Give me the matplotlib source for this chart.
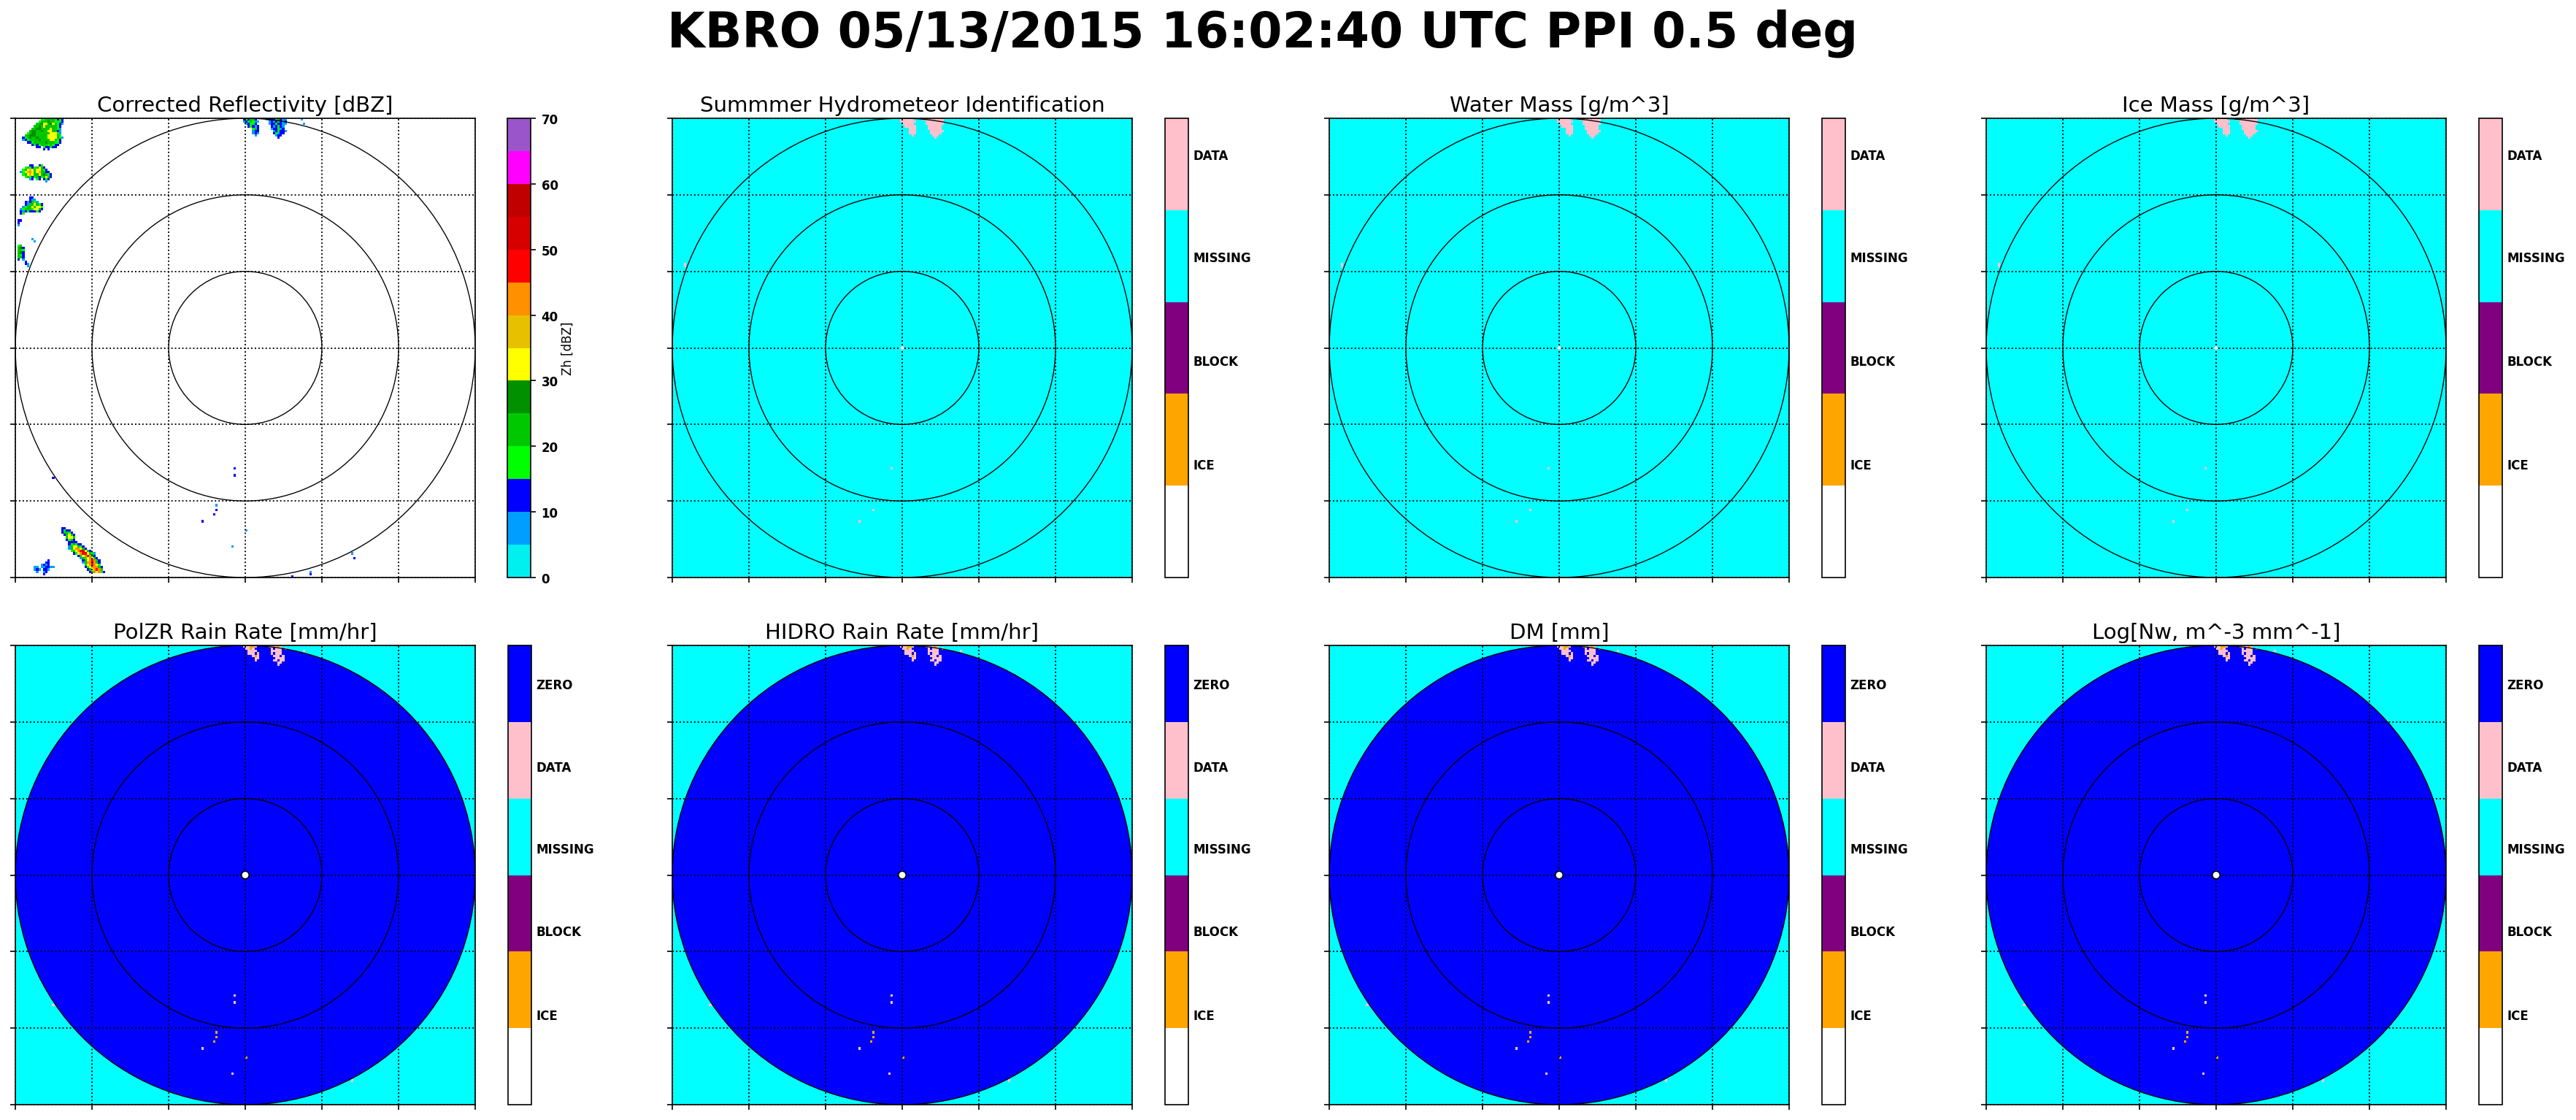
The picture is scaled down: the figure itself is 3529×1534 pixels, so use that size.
#! /usr/bin/env python3

import numpy as np
import matplotlib
import matplotlib.pyplot as plt
from matplotlib.colors import ListedColormap, BoundaryNorm
from matplotlib.patches import Circle
matplotlib.use('Agg')

# Echo blobs, one char per 1.5 km cell
# b=5-10 B=10-15 l=15-20 G=20-25 D=25-30 y=30-35 o=35-40 O=40-45 r=45-50 R=50-55
blobNW1 = ["........llGGGGlBlB",
           ".......lGGGDGGlllB",
           "......GGDyyGDyGlBb",
           ".....GGDGyGGGGGlB.",
           "....GGDDGGGGyGGlb.",
           "...GDDGGDGGyyGGBb.",
           "..lGDDGGGGGGyyylb.",
           ".GGDDDGGGGGyyyyGl.",
           "BlGDGGDGGGGyyyyGlb",
           "bBlGGGGDGGGGyyGlB.",
           "..BBlGGGGGDGGGllB.",
           "....BlBlGGGlGlBB..",
           "......BB.lBBlBB...",
           ".........B.B......"]
blobNW2 = ["....BB..Bl....",
           "..lGlBlGyGB...",
           ".lGyoyGyyGlB..",
           "blyoOyGyoGGBB.",
           ".lGyoyGGyGDGlB",
           "..lGlBlGBlGyGB",
           "....bB.lB.BlB.",
           "...........b.."]
blobNW3 = ["....BB....",
           "....Bbb...",
           "..BbBGlb..",
           "..BbGGyGlB",
           ".blGGyGyyl",
           "blGGGlyyGB",
           "BbBlBBBlB.",
           "Bl........"]
blobW1 = ["lG.", "GDB", "GGl", "GDB", "GlB", "GGB", "B.b"]
blobW2 = ["BB", "B.", "b."]
blobW3 = ["b.", ".b"]
blobW4 = ["B.", "Bb", ".b"]
blobSW1 = ["BB....",
           "BlBB..",
           "BGGlB.",
           ".BGyGB",
           "..GyyG",
           "..BlGB",
           "...BB."]
blobSW2 = ["..BB............",
           "BlGlBB..........",
           "bGyyGlB.........",
           "bGyOOyGB........",
           ".lGyOrRyGB......",
           "..BlyOrRyGlb....",
           "....BGyOrOGB....",
           ".....bGlyOyGB...",
           "......BGyOrOGB..",
           "......bGOOrOGB..",
           ".......GyOrOyl..",
           ".......BlyOOOGB.",
           "........BGyOrOG.",
           ".........BGOyOlB"]
blobSW3 = ["......B..",
           ".....BB..",
           "...bBbB..",
           "bb.bbBBbb",
           "bBb.BBb..",
           ".b..bB...",
           "....B...."]
blobN1 = ["bbBGlGBb..",
          "..BlBGGB..",
          "..bBlGlbb.",
          "...bBllB..",
          "....BlBbB.",
          "......lGB.",
          "......bBB.",
          "......bBb.",
          ".......b.."]
blobN2 = ["bbBlGGBBb",
          "bBBBlGBbb",
          ".bBbBlBbB",
          ".bBBlBBbb",
          "..BbBlBb.",
          "..bBBlbB.",
          "...bBlBBb",
          "...BlbBB.",
          "....bBB..",
          ".....B..."]
blobs = [blobNW1, blobNW2, blobNW3, blobW1, blobW2, blobW3, blobW4, blobSW1, blobSW2, blobSW3, blobN1, blobN2]
blobX = [-145, -147, -147, -149, -149, -140, -144, -120.5, -115, -138, -4, 13]
blobY = [149, 118, 98, 66, 82, 71, 55, -119, -128, -139, 150, 150]

# Isolated gates
dotX = [-19.5, -20, -20.5, -28.5, -0.5, -8.5, 41.5, 42, 69.5, 70.5, -8, -8, -126.5, 30.5, 36.5, 38]
dotY = [-103.5, -107, -109, -114.5, -120.5, -130, -147, -149, -135.5, -137.5, -80, -83.5, -86, 149.5, 149, 146]
dotLevel = "bBBBbbbBbBBBBBbb"
dotRainIce = [1, 1, 1, 0, 1, 0, 0, 0, 0, 0, 0, 0, 0, 0, 0, 0]
dotShownTop = [0, 1, 0, 1, 0, 0, 0, 0, 0, 0, 1, 0, 0, 0, 0, 0]

levelChars = "abBlGDyoOrRRMP"
dbzColors = ['#00efef', '#009fff', '#0000ff', '#00ff00', '#00c800', '#009000', '#ffff00',
             '#e7c000', '#ff9000', '#ff0000', '#d60000', '#c00000', '#ff00ff', '#9955c9']
dbzTicks = [0, 10, 20, 30, 40, 50, 60, 70]

hidColorsTop = ['white', 'orange', 'purple', 'cyan', 'pink']
hidLabelsTop = ['ICE', 'BLOCK', 'MISSING', 'DATA']
hidColorsBottom = ['white', 'orange', 'purple', 'cyan', 'pink', 'blue']
hidLabelsBottom = ['ICE', 'BLOCK', 'MISSING', 'DATA', 'ZERO']

titles = ["Corrected Reflectivity [dBZ]", "Summmer Hydrometeor Identification", "Water Mass [g/m^3]", "Ice Mass [g/m^3]",
          "PolZR Rain Rate [mm/hr]", "HIDRO Rain Rate [mm/hr]", "DM [mm]", "Log[Nw, m^-3 mm^-1]"]
ringRadii = [50, 100, 150]
gridTicks = [-150, -100, -50, 0, 50, 100, 150]

widthPx, heightPx = 3529, 1535
dpi = 150
cell = 1.5
edges = np.arange(-150, 150 + cell, cell)
nCell = len(edges) - 1


def cellIndex(x, y):
    return int(round((x + 150) / cell)), int(round((150 - y) / cell)) - 1


# Fill the gate grid from the hand read blobs
dbz = np.full((nCell, nCell), np.nan)
rainIce = np.zeros((nCell, nCell), dtype=bool)
rainHole = np.zeros((nCell, nCell), dtype=bool)
topHidden = np.zeros((nCell, nCell), dtype=bool)
for blob, x0, y0 in zip(blobs, blobX, blobY):
    for r, row in enumerate(blob):
        for c, ch in enumerate(row):
            if ch == '.':
                continue
            i, j = cellIndex(x0 + c * cell, y0 - r * cell)
            if 0 <= i < nCell and 0 <= j < nCell:
                dbz[j, i] = levelChars.index(ch) * 5 + 2.5
                rainIce[j, i] = ch == 'G'
                rainHole[j, i] = ch == 'b'
for x, y, ch, ice, shown in zip(dotX, dotY, dotLevel, dotRainIce, dotShownTop):
    i, j = cellIndex(x, y)
    dbz[j, i] = levelChars.index(ch) * 5 + 2.5
    rainIce[j, i] = bool(ice)
    topHidden[j, i] = not shown

mids = 0.5 * (edges[:-1] + edges[1:])
xx, yy = np.meshgrid(mids, mids[::-1])
inRange = np.hypot(xx, yy) <= 152
hasData = ~np.isnan(dbz) & inRange


def addAxes(fig, x, y, w, h):
    return fig.add_axes([x / widthPx, 1 - (y + h) / heightPx, w / widthPx, h / heightPx])


def setupPanel(ax, title):
    ax.set_xlim(-150, 150)
    ax.set_ylim(-150, 150)
    ax.set_xticks(gridTicks)
    ax.set_yticks(gridTicks)
    ax.set_xticklabels([])
    ax.set_yticklabels([])
    ax.set_axisbelow(False)
    ax.grid(True, linestyle=':', color='k', linewidth=0.9)
    for radius in ringRadii:
        ax.add_patch(Circle((0, 0), radius, fill=False, edgecolor='k', linewidth=0.65, zorder=4))
    ax.set_title(title, fontsize=14, pad=5)


def hidColorbar(fig, cax, mesh, labels, ticks):
    cb = fig.colorbar(mesh, cax=cax)
    cb.set_ticks(ticks)
    cb.set_ticklabels(labels, fontsize=8, fontweight='bold')
    cb.ax.tick_params(length=0, pad=3)
    cb.ax.minorticks_off()


def main():
    fig = plt.figure(figsize=(widthPx / dpi, heightPx / dpi), dpi=dpi)
    fig.text(0.4902, 0.9705, "KBRO 05/13/2015 16:02:40 UTC PPI 0.5 deg", fontsize=32, fontweight='bold',
             ha='center', va='center')

    lefts = [21, 921, 1821, 2721]
    tops = [163, 885]
    size = 629
    dbzCmap = ListedColormap(dbzColors)
    dbzNorm = BoundaryNorm(np.arange(0, 75, 5), dbzCmap.N)

    # Top left: reflectivity
    ax = addAxes(fig, lefts[0], tops[0], size + 1, size)
    mesh = ax.pcolormesh(edges, edges[::-1], np.ma.masked_invalid(dbz), cmap=dbzCmap, norm=dbzNorm)
    setupPanel(ax, titles[0])
    cax = addAxes(fig, lefts[0] + 674, tops[0], 32, size)
    cb = fig.colorbar(mesh, cax=cax)
    cb.set_ticks(dbzTicks)
    cb.set_ticklabels([str(t) for t in dbzTicks], fontsize=8, fontweight='bold')
    cb.ax.minorticks_off()
    cb.set_label("Zh [dBZ]", fontsize=8, labelpad=2)

    # Top row: cyan field with pink data gates
    topCmap = ListedColormap(hidColorsTop)
    topNorm = BoundaryNorm(np.arange(0, 6), topCmap.N)
    topField = np.where(hasData & ~topHidden, 4.5, 3.5)
    for n in range(1, 4):
        ax = addAxes(fig, lefts[n], tops[0], size + 1, size)
        mesh = ax.pcolormesh(edges, edges[::-1], topField, cmap=topCmap, norm=topNorm)
        ax.add_patch(Circle((0, 0), 1.0, facecolor='white', edgecolor='lightgrey', linewidth=0.5, zorder=5))
        setupPanel(ax, titles[n])
        cax = addAxes(fig, lefts[n] + 675, tops[0], 32, size)
        hidColorbar(fig, cax, mesh, hidLabelsTop, [1.24, 2.37, 3.5, 4.61])

    # Bottom row: blue zero-rain disc inside 150 km
    botCmap = ListedColormap(hidColorsBottom)
    botNorm = BoundaryNorm(np.arange(0, 7), botCmap.N)
    botField = np.where(hasData, np.where(rainIce, 1.5, 4.5), 5.5)
    for n in range(4):
        ax = addAxes(fig, lefts[n], tops[1], size + 1, size)
        ax.set_facecolor('cyan')
        ax.add_patch(Circle((0, 0), 150, facecolor='blue', edgecolor='none', zorder=1))
        mesh = ax.pcolormesh(edges, edges[::-1], np.ma.masked_where(~hasData | rainHole, botField),
                             cmap=botCmap, norm=botNorm, zorder=2)
        ax.add_patch(Circle((0, 0), 2.5, facecolor='white', edgecolor='k', linewidth=0.8, zorder=5))
        setupPanel(ax, titles[n + 4])
        cax = addAxes(fig, lefts[n] + 675, tops[1], 32, size)
        hidColorbar(fig, cax, mesh, hidLabelsBottom, [1.18, 2.28, 3.36, 4.43, 5.5])

    fig.savefig('out.png', dpi=dpi)


# Bootstrap
if __name__ == "__main__":
    main()
